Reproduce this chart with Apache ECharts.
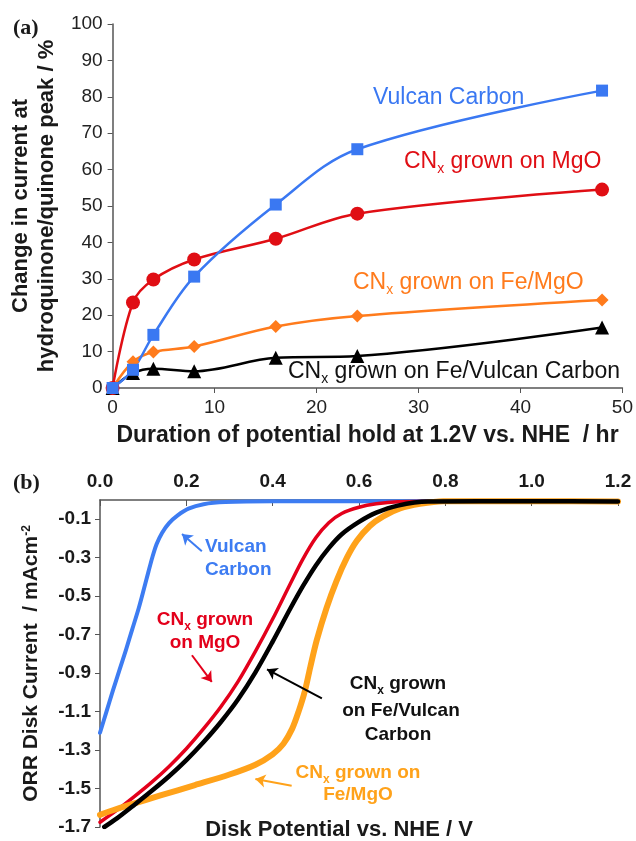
<!DOCTYPE html>
<html>
<head>
<meta charset="utf-8">
<script src="https://cdn.jsdelivr.net/npm/echarts@6/dist/echarts.min.js"></script>
<style>
html, body { margin: 0; padding: 0; background: #fff; }
#chart { width: 636px; height: 841px; }
</style>
</head>
<body>
<div id="chart"></div>
<script>
// (a) duration of hold at 1.2 V (hr) vs change of hydroquinone/quinone peak (%)
var hours = [0, 2, 4, 8, 16, 24, 48];
var vulcanA = [0, 5, 14.6, 30.6, 50.4, 65.6, 81.7];
var mgoA = [0, 23.5, 29.8, 35.3, 41, 47.9, 54.5];
var feMgoA = [0, 7.2, 9.9, 11.4, 16.9, 19.8, 24.2];
var feVulcanA = [0, 4.1, 5.3, 4.6, 8.3, 8.8, 16.6];

// (b) ORR disk current (mA cm-2) vs disk potential (V vs NHE)
var vulcanV = [0, 0.015, 0.030, 0.045, 0.060, 0.075, 0.090, 0.102, 0.112, 0.121, 0.131, 0.144, 0.16, 0.18, 0.205, 0.24, 0.29, 0.40, 0.6, 0.8, 1.0, 1.2];
var vulcanI = [-1.21, -1.10, -0.99, -0.885, -0.78, -0.67, -0.56, -0.46, -0.375, -0.30, -0.23, -0.17, -0.12, -0.08, -0.045, -0.022, -0.011, -0.007, -0.007, -0.007, -0.007, -0.007];
var mgoV = [0, 0.04, 0.08, 0.12, 0.16, 0.20, 0.24, 0.28, 0.32, 0.36, 0.40, 0.44, 0.47, 0.50, 0.53, 0.56, 0.60, 0.64, 0.69, 0.80, 1.0, 1.2];
var mgoI = [-1.675, -1.611, -1.541, -1.467, -1.385, -1.293, -1.189, -1.075, -0.943, -0.787, -0.619, -0.439, -0.307, -0.196, -0.118, -0.070, -0.038, -0.020, -0.009, -0.006, -0.008, -0.012];
var feVulcanV = [0.01, 0.04, 0.08, 0.12, 0.16, 0.20, 0.24, 0.28, 0.32, 0.36, 0.40, 0.44, 0.47, 0.50, 0.53, 0.56, 0.60, 0.64, 0.69, 0.76, 1.0, 1.2];
var feVulcanI = [-1.70, -1.654, -1.584, -1.512, -1.436, -1.352, -1.258, -1.154, -1.036, -0.896, -0.736, -0.568, -0.448, -0.340, -0.250, -0.178, -0.114, -0.066, -0.029, -0.008, -0.006, -0.008];
var feMgoV = [0, 0.03, 0.07, 0.14, 0.22, 0.30, 0.36, 0.40, 0.425, 0.445, 0.46, 0.475, 0.487, 0.502, 0.525, 0.548, 0.572, 0.595, 0.625, 0.656, 0.695, 0.741, 0.795, 1.0, 1.2];
var feMgoI = [-1.637, -1.613, -1.584, -1.536, -1.482, -1.427, -1.376, -1.322, -1.267, -1.190, -1.10, -0.99, -0.87, -0.73, -0.56, -0.42, -0.30, -0.212, -0.135, -0.085, -0.044, -0.020, -0.006, -0.006, -0.008];

// arrow annotations in (b), [fromV, fromI, toV, toI]
var arrowVulcan = [0.236, -0.267, 0.190, -0.177];
var arrowMgo = [0.213, -0.807, 0.259, -0.946];
var arrowFeVulcan = [0.514, -1.031, 0.387, -0.880];
var arrowFeMgo = [0.444, -1.486, 0.360, -1.451];

var font = "'Liberation Sans', Arial, Helvetica, sans-serif";
var blueA = '#3a78f2', redA = '#e00e14', orangeA = '#ff7b1c', blackA = '#000';
var blueB = '#3d7cf2', redB = '#e3001b', orangeB = '#ffa21a', blackB = '#000';

function pairs(xs, ys) {
  return xs.map(function (x, i) { return [x, ys[i]]; });
}

function arrow(a, color) {
  return {
    silent: true,
    animation: false,
    symbol: ['none', 'arrow'],
    symbolSize: 10,
    label: { show: false },
    lineStyle: { color: color, width: 2, type: 'solid' },
    data: [[{ coord: [a[0], a[1]] }, { coord: [a[2], a[3]] }]]
  };
}

function lineA(name, ys, color, symbol, size) {
  return {
    name: name,
    type: 'line',
    xAxisIndex: 0,
    yAxisIndex: 0,
    data: pairs(hours, ys),
    smooth: 0.35,
    symbol: symbol,
    symbolSize: size,
    lineStyle: { color: color, width: 2.5 },
    itemStyle: { color: color },
    z: 3
  };
}

function lineB(name, xs, ys, color, width, arr) {
  return {
    name: name,
    type: 'line',
    xAxisIndex: 1,
    yAxisIndex: 1,
    data: pairs(xs, ys),
    smooth: 0.3,
    showSymbol: false,
    lineStyle: { color: color, width: width, join: 'round', cap: 'round' },
    itemStyle: { color: color },
    markLine: arrow(arr, color)
  };
}

// rich text with subscript x
function richLabel(color, size, bold) {
  var w = bold ? 'bold' : 'normal';
  return {
    n: { fontSize: size, fontFamily: font, fontWeight: w, fill: color, lineHeight: size + 6 },
    sub: { fontSize: Math.round(size * 0.62), fontFamily: font, fontWeight: w, fill: color,
           lineHeight: Math.round(size * 0.62), verticalAlign: 'bottom' }
  };
}

function label(x, y, text, color, size, bold, align) {
  return {
    type: 'text',
    x: x,
    y: y,
    silent: true,
    style: {
      text: text,
      rich: richLabel(color, size, bold),
      fill: color,
      fontSize: size,
      fontFamily: font,
      fontWeight: bold ? 'bold' : 'normal',
      align: align || 'left',
      verticalAlign: 'middle',
      lineHeight: size + 4
    }
  };
}

var chart = echarts.init(document.getElementById('chart'));

chart.setOption({
  animation: false,
  backgroundColor: '#fff',
  grid: [
    { left: 111, top: 24, width: 512, height: 364 },
    { left: 100, top: 500, width: 518, height: 327 }
  ],
  xAxis: [
    {
      gridIndex: 0,
      type: 'value',
      min: 0,
      max: 50,
      interval: 10,
      name: 'Duration of potential hold at 1.2V vs. NHE  / hr',
      nameLocation: 'middle',
      nameGap: 36,
      nameTextStyle: { fontSize: 23, fontWeight: 'bold', fontFamily: font, color: '#1a1a1a' },
      axisLine: { lineStyle: { color: '#555', width: 1.5 } },
      axisTick: { length: 5, lineStyle: { color: '#555' } },
      axisLabel: { fontSize: 19, fontFamily: font, color: '#222', margin: 10 },
      splitLine: { show: false }
    },
    {
      gridIndex: 1,
      type: 'value',
      position: 'top',
      min: 0,
      max: 1.2,
      interval: 0.2,
      axisLine: { onZero: false, lineStyle: { color: '#555', width: 1.5 } },
      axisTick: { inside: true, length: 6, lineStyle: { color: '#555' } },
      axisLabel: {
        fontSize: 19, fontWeight: 'bold', fontFamily: font, color: '#1a1a1a', margin: 9,
        formatter: function (v) { return v.toFixed(1); }
      },
      splitLine: { show: false }
    }
  ],
  yAxis: [
    {
      gridIndex: 0,
      type: 'value',
      min: 0,
      max: 100,
      interval: 10,
      name: 'Change in current at\nhydroquinone/quinone peak / %',
      nameLocation: 'middle',
      nameGap: 47,
      nameTextStyle: { fontSize: 22, fontWeight: 'bold', fontFamily: font, color: '#1a1a1a', lineHeight: 26 },
      axisLine: { show: true, lineStyle: { color: '#555', width: 1.5 } },
      axisTick: { show: true, length: 5, lineStyle: { color: '#555' } },
      axisLabel: { fontSize: 19, fontFamily: font, color: '#222', margin: 10 },
      splitLine: { show: false }
    },
    {
      gridIndex: 1,
      type: 'value',
      min: -1.7,
      max: 0,
      interval: 0.2,
      name: 'ORR Disk Current  / mAcm{sup|-2}',
      nameLocation: 'middle',
      nameGap: 58,
      nameTextStyle: {
        fontSize: 21, fontWeight: 'bold', fontFamily: font, color: '#1a1a1a',
        rich: { sup: { fontSize: 12, fontWeight: 'bold', fontFamily: font, color: '#1a1a1a', verticalAlign: 'top', lineHeight: 12 } }
      },
      axisLine: { show: true, onZero: false, lineStyle: { color: '#555', width: 1.5 } },
      axisTick: { show: true, length: 5, lineStyle: { color: '#555' } },
      axisLabel: {
        fontSize: 19, fontWeight: 'bold', fontFamily: font, color: '#1a1a1a', margin: 9,
        showMaxLabel: false,
        formatter: function (v) { return v.toFixed(1); }
      },
      splitLine: { show: false }
    }
  ],
  series: [
    lineA('CNx grown on Fe/Vulcan Carbon', feVulcanA, blackA, 'triangle', 14),
    lineA('CNx grown on Fe/MgO', feMgoA, orangeA, 'diamond', 13),
    lineA('CNx grown on MgO', mgoA, redA, 'circle', 14),
    lineA('Vulcan Carbon', vulcanA, blueA, 'rect', 12),
    lineB('Vulcan Carbon', vulcanV, vulcanI, blueB, 4, arrowVulcan),
    lineB('CNx grown on MgO', mgoV, mgoI, redB, 3.5, arrowMgo),
    lineB('CNx grown on Fe/MgO', feMgoV, feMgoI, orangeB, 6, arrowFeMgo),
    lineB('CNx grown on Fe/Vulcan Carbon', feVulcanV, feVulcanI, blackB, 4.5, arrowFeVulcan)
  ],
  graphic: [
    { type: 'text', x: 13, y: 28, silent: true,
      style: { text: '(a)', fontSize: 22, fontWeight: 'bold', fontFamily: "'Liberation Serif', 'Times New Roman', serif", fill: '#1a1a1a', verticalAlign: 'middle' } },
    { type: 'text', x: 13, y: 483, silent: true,
      style: { text: '(b)', fontSize: 22, fontWeight: 'bold', fontFamily: "'Liberation Serif', 'Times New Roman', serif", fill: '#1a1a1a', verticalAlign: 'middle' } },
    label(373, 98, '{n|Vulcan Carbon}', blueA, 23, false),
    label(404, 162, '{n|CN}{sub|x}{n| grown on MgO}', redA, 23, false),
    label(353, 283, '{n|CN}{sub|x}{n| grown on Fe/MgO}', orangeA, 23, false),
    label(288, 372, '{n|CN}{sub|x}{n| grown on Fe/Vulcan Carbon}', '#111', 23, false),
    label(205, 547, '{n|Vulcan}', blueB, 19, true),
    label(205, 570, '{n|Carbon}', blueB, 19, true),
    label(205, 620, '{n|CN}{sub|x}{n| grown}', redB, 19, true, 'center'),
    label(205, 643, '{n|on MgO}', redB, 19, true, 'center'),
    label(398, 684, '{n|CN}{sub|x}{n| grown}', '#111', 19, true, 'center'),
    label(401, 711, '{n|on Fe/Vulcan}', '#111', 19, true, 'center'),
    label(398, 735, '{n|Carbon}', '#111', 19, true, 'center'),
    label(358, 773, '{n|CN}{sub|x}{n| grown on}', orangeB, 19, true, 'center'),
    label(358, 795, '{n|Fe/MgO}', orangeB, 19, true, 'center'),
    { type: 'text', x: 339, y: 830, silent: true,
      style: { text: 'Disk Potential vs. NHE / V', fontSize: 22, fontWeight: 'bold', fontFamily: font, fill: '#1a1a1a', align: 'center', verticalAlign: 'middle' } }
  ]
});
</script>
</body>
</html>
